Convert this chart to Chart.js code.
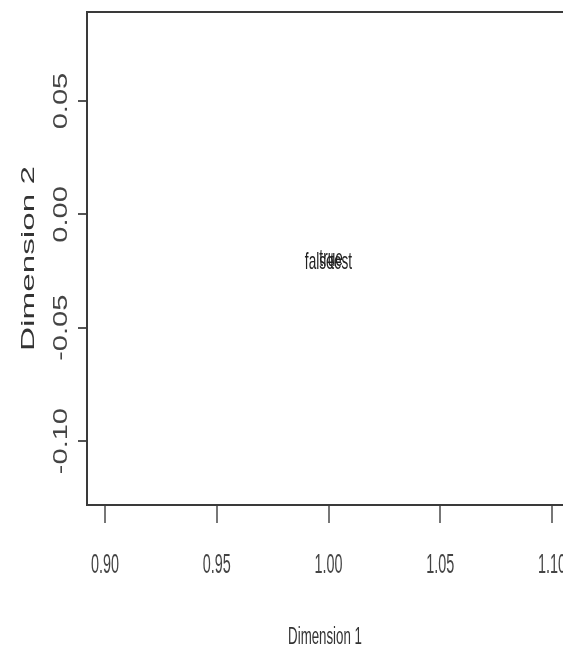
<!DOCTYPE html>
<html>
<head>
<meta charset="utf-8">
<script src="https://cdn.jsdelivr.net/npm/chart.js@4/dist/chart.umd.min.js"></script>
<style>
  html, body { margin: 0; padding: 0; background: #fff; overflow: hidden; }
  #wrap { width: 563px; height: 656px; overflow: hidden; }
</style>
</head>
<body>
<div id="wrap"><canvas id="myChart" width="600" height="656"></canvas></div>
<script>
// MDS point labels and coordinates
const pointLabels = ['false', 'true', 'test'];
const dim1 = [0.9958, 1.0011, 1.0056];
const dim2 = [-0.0210, -0.0197, -0.0210];
const xTicks = [0.90, 0.95, 1.00, 1.05, 1.10];
const yTicks = [-0.10, -0.05, 0.00, 0.05];
const xTitle = 'Dimension 1', yTitle = 'Dimension 2';

function drawText(ctx, str, cx, cy, font, sx, sy, rot, color) {
  ctx.save();
  ctx.translate(cx, cy);
  ctx.rotate(rot);
  ctx.scale(sx, sy);
  ctx.font = font;
  ctx.fillStyle = color;
  ctx.textAlign = 'center';
  ctx.textBaseline = 'middle';
  ctx.fillText(str, 0, 0);
  ctx.restore();
}

const rText = {
  id: 'rText',
  afterDraw(chart) {
    const ctx = chart.ctx, a = chart.chartArea;
    const x = chart.scales.x, y = chart.scales.y;
    ctx.save();
    // plot box
    ctx.strokeStyle = '#3a3a3a';
    ctx.lineWidth = 2;
    ctx.strokeRect(a.left, a.top, a.right - a.left, a.bottom - a.top);
    ctx.restore();
    // tick labels
    x.ticks.forEach(t => {
      drawText(ctx, t.value.toFixed(2), x.getPixelForValue(t.value), a.bottom + 61,
        '16px "Liberation Sans"', 0.9, 1.7, 0, '#444');
    });
    y.ticks.forEach(t => {
      drawText(ctx, t.value.toFixed(2), a.left - 26, y.getPixelForValue(t.value),
        '20px "Liberation Sans"', 1.45, 1.0, -Math.PI / 2, '#444');
    });
    // axis titles
    drawText(ctx, xTitle, 325, a.bottom + 132, '16px "Liberation Sans"', 0.83, 1.55, 0, '#333');
    drawText(ctx, yTitle, a.left - 58, (a.top + a.bottom) / 2, '19px "Liberation Sans"', 1.75, 1.0, -Math.PI / 2, '#333');
    // point labels
    pointLabels.forEach((lab, i) => {
      drawText(ctx, lab, x.getPixelForValue(dim1[i]), y.getPixelForValue(dim2[i]),
        '16px "Liberation Sans"', 0.85, 1.5, 0, '#222');
    });
  }
};

new Chart(document.querySelector('#myChart'), {
  type: 'scatter',
  data: {
    datasets: [{
      data: dim1.map((v, i) => ({ x: v, y: dim2[i] })),
      pointRadius: 0,
      showLine: false
    }]
  },
  options: {
    responsive: false,
    animation: false,
    devicePixelRatio: 1,
    layout: { padding: { top: 12, right: 30, left: 0, bottom: 0 } },
    plugins: { legend: { display: false }, tooltip: { enabled: false } },
    scales: {
      x: {
        type: 'linear',
        min: 0.8919,
        max: 1.108,
        afterBuildTicks: s => { s.ticks = xTicks.map(v => ({ value: v })); },
        afterFit: s => { s.height = 151; s.paddingLeft = 0; s.paddingRight = 0; },
        ticks: { display: false },
        border: { display: false },
        grid: { drawOnChartArea: false, drawTicks: true, tickLength: 18, color: '#777', lineWidth: 2 }
      },
      y: {
        type: 'linear',
        min: -0.1282,
        max: 0.0893,
        afterBuildTicks: s => { s.ticks = yTicks.map(v => ({ value: v })); },
        afterFit: s => { s.width = 87; s.paddingTop = 0; s.paddingBottom = 0; },
        ticks: { display: false },
        border: { display: false },
        grid: { drawOnChartArea: false, drawTicks: true, tickLength: 9, color: '#555', lineWidth: 2 }
      }
    }
  },
  plugins: [rText]
});
</script>
</body>
</html>
